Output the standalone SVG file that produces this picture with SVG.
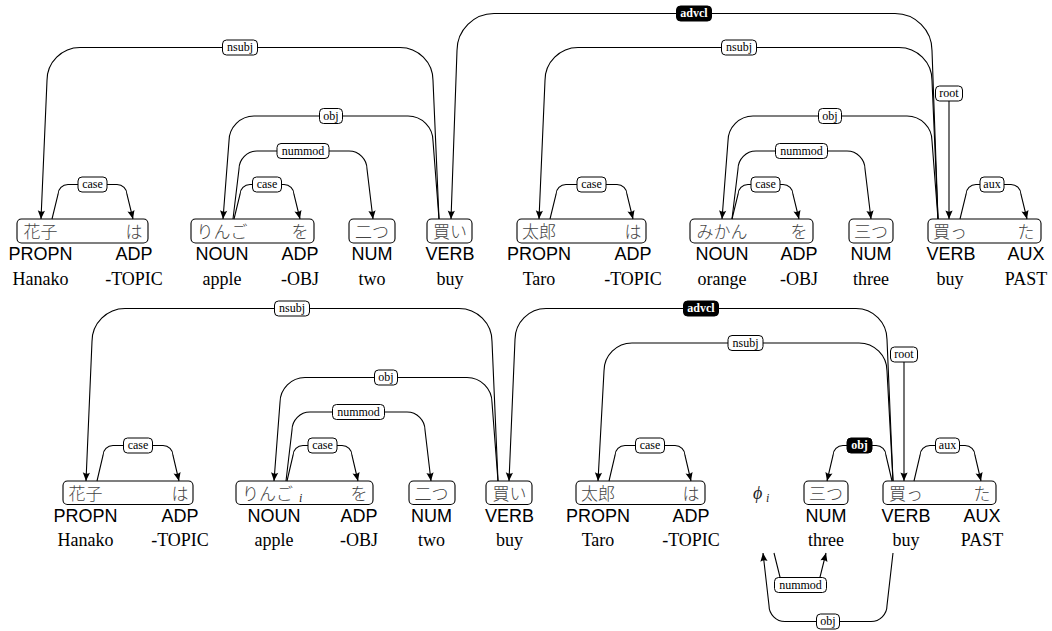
<svg xmlns="http://www.w3.org/2000/svg" width="1052" height="631" viewBox="0 0 1052 631">
<defs>
<marker id="ah" viewBox="-9 -5 10 10" refX="0" refY="0" markerWidth="10" markerHeight="10" markerUnits="userSpaceOnUse" orient="auto">
<path d="M0,0 L-8.5,-3.6 Q-6.2,0 -8.5,3.6 Z" fill="#000"/>
</marker>
<style>
.box{fill:#fff;stroke:#000;stroke-width:1.1}
.jp{font-family:"Noto Sans CJK JP","Noto Sans CJK SC",sans-serif;font-size:17px;font-weight:300;fill:#444;text-anchor:middle}
.pos{font-family:"Liberation Sans",Arial,sans-serif;font-size:18px;fill:#000;text-anchor:middle}
.gl{font-family:"Liberation Serif","Times New Roman",serif;font-size:18px;fill:#000;text-anchor:middle}
.arc{fill:none;stroke:#000;stroke-width:1.1;marker-end:url(#ah)}
.lb rect{fill:#fff;stroke:#000;stroke-width:1}
.lb text{font-family:"Liberation Serif","Times New Roman",serif;font-size:12px;fill:#000;text-anchor:middle}
.dk rect{fill:#000;stroke:#000;stroke-width:1}
.dk text{font-family:"Liberation Serif","Times New Roman",serif;font-size:12px;font-weight:bold;fill:#fff;text-anchor:middle}
.mi{font-family:"Liberation Serif","DejaVu Serif","Times New Roman",serif;font-style:italic;fill:#222}
</style>
</defs>
<rect width="1052" height="631" fill="#fff"/>

<!-- ===== Top sentence nodes ===== -->
<g id="t-hanako-wa">
<rect class="box" x="17" y="219" width="131" height="24" rx="4.5"/>
<text class="jp" x="40.5" y="237.5">花子</text><text class="jp" x="134" y="237.5">は</text>
<text class="pos" x="40.5" y="260">PROPN</text><text class="pos" x="134" y="260">ADP</text>
<text class="gl" x="40.5" y="285">Hanako</text><text class="gl" x="134" y="285">-TOPIC</text>
</g>
<g id="t-ringo-wo">
<rect class="box" x="191" y="219" width="123" height="24" rx="4.5"/>
<text class="jp" x="222" y="237.5">りんご</text><text class="jp" x="300" y="237.5">を</text>
<text class="pos" x="222" y="260">NOUN</text><text class="pos" x="300" y="260">ADP</text>
<text class="gl" x="222" y="285">apple</text><text class="gl" x="300" y="285">-OBJ</text>
</g>
<g id="t-futatsu">
<rect class="box" x="349" y="219" width="46" height="24" rx="4.5"/>
<text class="jp" x="372" y="237.5">二つ</text>
<text class="pos" x="372" y="260">NUM</text>
<text class="gl" x="372" y="285">two</text>
</g>
<g id="t-kai">
<rect class="box" x="427" y="219" width="45" height="24" rx="4.5"/>
<text class="jp" x="450" y="237.5">買い</text>
<text class="pos" x="450" y="260">VERB</text>
<text class="gl" x="450" y="285">buy</text>
</g>
<g id="t-taro-wa">
<rect class="box" x="517" y="219" width="129" height="24" rx="4.5"/>
<text class="jp" x="539" y="237.5">太郎</text><text class="jp" x="633" y="237.5">は</text>
<text class="pos" x="539" y="260">PROPN</text><text class="pos" x="633" y="260">ADP</text>
<text class="gl" x="539" y="285">Taro</text><text class="gl" x="633" y="285">-TOPIC</text>
</g>
<g id="t-mikan-wo">
<rect class="box" x="690" y="219" width="123" height="24" rx="4.5"/>
<text class="jp" x="722" y="237.5">みかん</text><text class="jp" x="799" y="237.5">を</text>
<text class="pos" x="722" y="260">NOUN</text><text class="pos" x="799" y="260">ADP</text>
<text class="gl" x="722" y="285">orange</text><text class="gl" x="799" y="285">-OBJ</text>
</g>
<g id="t-mittsu">
<rect class="box" x="849" y="219" width="44" height="24" rx="4.5"/>
<text class="jp" x="871" y="237.5">三つ</text>
<text class="pos" x="871" y="260">NUM</text>
<text class="gl" x="871" y="285">three</text>
</g>
<g id="t-katta">
<rect class="box" x="928" y="219" width="113" height="24" rx="4.5"/>
<text class="jp" x="950" y="237.5">買っ</text><text class="jp" x="1026" y="237.5">た</text>
<text class="pos" x="951" y="260">VERB</text><text class="pos" x="1026" y="260">AUX</text>
<text class="gl" x="950" y="285">buy</text><text class="gl" x="1026" y="285">PAST</text>
</g>

<!-- ===== Bottom sentence nodes ===== -->
<g id="b-hanako-wa">
<rect class="box" x="63" y="481" width="130" height="23.5" rx="4.5"/>
<text class="jp" x="85.5" y="499.5">花子</text><text class="jp" x="180" y="499.5">は</text>
<text class="pos" x="85.5" y="522">PROPN</text><text class="pos" x="180" y="522">ADP</text>
<text class="gl" x="85.5" y="546">Hanako</text><text class="gl" x="180" y="546">-TOPIC</text>
</g>
<g id="b-ringo-wo">
<rect class="box" x="236" y="481" width="137" height="23.5" rx="4.5"/>
<text class="jp" x="267.5" y="499.5">りんご</text><text class="mi" x="299" y="502" font-size="12">i</text><text class="jp" x="359" y="499.5">を</text>
<text class="pos" x="274" y="522">NOUN</text><text class="pos" x="359" y="522">ADP</text>
<text class="gl" x="274" y="546">apple</text><text class="gl" x="359" y="546">-OBJ</text>
</g>
<g id="b-futatsu">
<rect class="box" x="409" y="481" width="46" height="23.5" rx="4.5"/>
<text class="jp" x="431.5" y="499.5">二つ</text>
<text class="pos" x="431.5" y="522">NUM</text>
<text class="gl" x="431.5" y="546">two</text>
</g>
<g id="b-kai">
<rect class="box" x="486" y="481" width="46" height="23.5" rx="4.5"/>
<text class="jp" x="509.5" y="499.5">買い</text>
<text class="pos" x="509.5" y="522">VERB</text>
<text class="gl" x="509.5" y="546">buy</text>
</g>
<g id="b-taro-wa">
<rect class="box" x="576" y="481" width="129" height="23.5" rx="4.5"/>
<text class="jp" x="598" y="499.5">太郎</text><text class="jp" x="691" y="499.5">は</text>
<text class="pos" x="598" y="522">PROPN</text><text class="pos" x="691" y="522">ADP</text>
<text class="gl" x="598" y="546">Taro</text><text class="gl" x="691" y="546">-TOPIC</text>
</g>
<g id="b-phi">
<text class="mi" x="753" y="499" font-size="18">ϕ</text><text class="mi" x="766" y="502" font-size="12">i</text>
</g>
<g id="b-mittsu">
<rect class="box" x="804" y="481" width="44" height="23.5" rx="4.5"/>
<text class="jp" x="826" y="499.5">三つ</text>
<text class="pos" x="826" y="522">NUM</text>
<text class="gl" x="826" y="546">three</text>
</g>
<g id="b-katta">
<rect class="box" x="883" y="481" width="113" height="23.5" rx="4.5"/>
<text class="jp" x="906" y="499.5">買っ</text><text class="jp" x="982" y="499.5">た</text>
<text class="pos" x="906" y="522">VERB</text><text class="pos" x="982" y="522">AUX</text>
<text class="gl" x="906" y="546">buy</text><text class="gl" x="982" y="546">PAST</text>
</g>

<!-- ===== Connectors ===== -->
<g id="connectors">
<!-- top sentence -->
<path class="arc" d="M439,219 L433,80.5 C433,62.4 418.2,47.5 400,47.5 H80 C61.9,47.5 47,62.4 47,80.5 L41,219"/>
<path class="arc" d="M938,219 L932,50.5 C932,30.2 915.4,13.5 895,13.5 H494 C473.7,13.5 457,30.2 457,50.5 L451,219"/>
<path class="arc" d="M938,219 L932,80.5 C932,62.4 917.2,47.5 899,47.5 H578 C559.9,47.5 545,62.4 545,80.5 L539,219"/>
<path class="arc" d="M439,219 L433,141 C433,127.3 421.8,116 408,116 H254 C240.3,116 229,127.3 229,141 L223,219"/>
<path class="arc" d="M938,219 L932,141 C932,127.3 920.8,116 907,116 H753 C739.3,116 728,127.3 728,141 L722,219"/>
<path class="arc" d="M233,219 L239,169 C239,159.1 247.1,151 257,151 H349 C358.9,151 367,159.1 367,169 L373,219"/>
<path class="arc" d="M732,219 L738,169 C738,159.1 746.1,151 756,151 H847 C856.9,151 865,159.1 865,169 L871,219"/>
<path class="arc" d="M52,219 L58,194.5 C58,189 62.5,184.5 68,184.5 H117 C122.5,184.5 127,189 127,194.5 L133,219"/>
<path class="arc" d="M234,219 L240,194.5 C240,189 244.5,184.5 250,184.5 H284 C289.5,184.5 294,189 294,194.5 L300,219"/>
<path class="arc" d="M550,219 L556,194.5 C556,189 560.5,184.5 566,184.5 H617 C622.5,184.5 627,189 627,194.5 L633,219"/>
<path class="arc" d="M732,219 L738,194.5 C738,189 742.5,184.5 748,184.5 H783 C788.5,184.5 793,189 793,194.5 L799,219"/>
<path class="arc" d="M960,219 L966,194.5 C966,189 970.5,184.5 976,184.5 H1011 C1016.5,184.5 1021,189 1021,194.5 L1027,219"/>
<path class="arc" d="M949,101 L949,219"/>

<g class="lb"><rect x="222.5" y="40" width="35" height="15" rx="4"/><text x="240" y="51">nsubj</text></g>
<g class="dk"><rect x="676.5" y="6" width="35" height="15" rx="4"/><text x="694" y="17">advcl</text></g>
<g class="lb"><rect x="721.5" y="40" width="35" height="15" rx="4"/><text x="739" y="51">nsubj</text></g>
<g class="lb"><rect x="319.5" y="108.5" width="23" height="15" rx="4"/><text x="331" y="119.5">obj</text></g>
<g class="lb"><rect x="818.5" y="108.5" width="23" height="15" rx="4"/><text x="830" y="119.5">obj</text></g>
<g class="lb"><rect x="277" y="143.5" width="52" height="15" rx="4"/><text x="303" y="154.5">nummod</text></g>
<g class="lb"><rect x="775.5" y="143.5" width="52" height="15" rx="4"/><text x="801.5" y="154.5">nummod</text></g>
<g class="lb"><rect x="78" y="177" width="29" height="15" rx="4"/><text x="92.5" y="188">case</text></g>
<g class="lb"><rect x="252.5" y="177" width="29" height="15" rx="4"/><text x="267" y="188">case</text></g>
<g class="lb"><rect x="577" y="177" width="29" height="15" rx="4"/><text x="591.5" y="188">case</text></g>
<g class="lb"><rect x="751" y="177" width="29" height="15" rx="4"/><text x="765.5" y="188">case</text></g>
<g class="lb"><rect x="980" y="177" width="24" height="15" rx="4"/><text x="992" y="188">aux</text></g>
<g class="lb"><rect x="935.5" y="86" width="27" height="15" rx="4"/><text x="949" y="97">root</text></g>

<!-- bottom sentence -->
<path class="arc" d="M498,481 L492,341.5 C492,323.4 477.2,308.5 459,308.5 H125 C106.9,308.5 92,323.4 92,341.5 L86,481"/>
<path class="arc" d="M893,481 L887,339.5 C887,322.5 873.1,308.5 856,308.5 H546 C529,308.5 515,322.5 515,339.5 L509,481"/>
<path class="arc" d="M893,481 L887,371 C887,355.6 874.4,343 859,343 H632 C616.6,343 604,355.6 604,371 L598,481"/>
<path class="arc" d="M498,481 L492,402.5 C492,388.8 480.8,377.5 467,377.5 H305 C291.3,377.5 280,388.8 280,402.5 L274,481"/>
<path class="arc" d="M286,481 L292,430 C292,420.1 300.1,412 310,412 H407 C416.9,412 425,420.1 425,430 L431,481"/>
<path class="arc" d="M97,481 L103,455.5 C103,450 107.5,445.5 113,445.5 H163 C168.5,445.5 173,450 173,455.5 L179,481"/>
<path class="arc" d="M287,481 L293,455.5 C293,450 297.5,445.5 303,445.5 H342 C347.5,445.5 352,450 352,455.5 L358,481"/>
<path class="arc" d="M609,481 L615,455.5 C615,450 619.5,445.5 625,445.5 H675 C680.5,445.5 685,450 685,455.5 L691,481"/>
<path class="arc" d="M892,481 L886,455.5 C886,450 881.5,445.5 876,445.5 H843 C837.5,445.5 833,450 833,455.5 L827,481"/>
<path class="arc" d="M914,481 L920,455.5 C920,450 924.5,445.5 930,445.5 H965 C970.5,445.5 975,450 975,455.5 L981,481"/>
<path class="arc" d="M904,362 L904,481"/>
<path class="arc" d="M774,553 L780,577 C780,581.4 783.6,585 788,585 H812 C816.4,585 820,581.4 820,577 L826,553"/>
<path class="arc" d="M893,553 L887,605.5 C887,614.3 879.8,621.5 871,621.5 H785 C776.2,621.5 769,614.3 769,605.5 L763,553"/>

<g class="lb"><rect x="274.5" y="301" width="35" height="15" rx="4"/><text x="292" y="312">nsubj</text></g>
<g class="dk"><rect x="683.5" y="301" width="35" height="15" rx="4"/><text x="701" y="312">advcl</text></g>
<g class="lb"><rect x="728" y="335.5" width="35" height="15" rx="4"/><text x="745.5" y="346.5">nsubj</text></g>
<g class="lb"><rect x="374.5" y="370" width="23" height="15" rx="4"/><text x="386" y="381">obj</text></g>
<g class="lb"><rect x="332.5" y="404.5" width="52" height="15" rx="4"/><text x="358.5" y="415.5">nummod</text></g>
<g class="lb"><rect x="123.5" y="438" width="29" height="15" rx="4"/><text x="138" y="449">case</text></g>
<g class="lb"><rect x="308" y="438" width="29" height="15" rx="4"/><text x="322.5" y="449">case</text></g>
<g class="lb"><rect x="635.5" y="438" width="29" height="15" rx="4"/><text x="650" y="449">case</text></g>
<g class="dk"><rect x="847" y="438" width="25" height="15" rx="4"/><text x="859.5" y="449">obj</text></g>
<g class="lb"><rect x="935.5" y="438" width="24" height="15" rx="4"/><text x="947.5" y="449">aux</text></g>
<g class="lb"><rect x="890.5" y="347" width="27" height="15" rx="4"/><text x="904" y="358">root</text></g>
<g class="lb"><rect x="774.5" y="577.5" width="52" height="15" rx="4"/><text x="800.5" y="588.5">nummod</text></g>
<g class="lb"><rect x="816.5" y="614" width="23" height="15" rx="4"/><text x="828" y="625">obj</text></g>
</g>
</svg>
